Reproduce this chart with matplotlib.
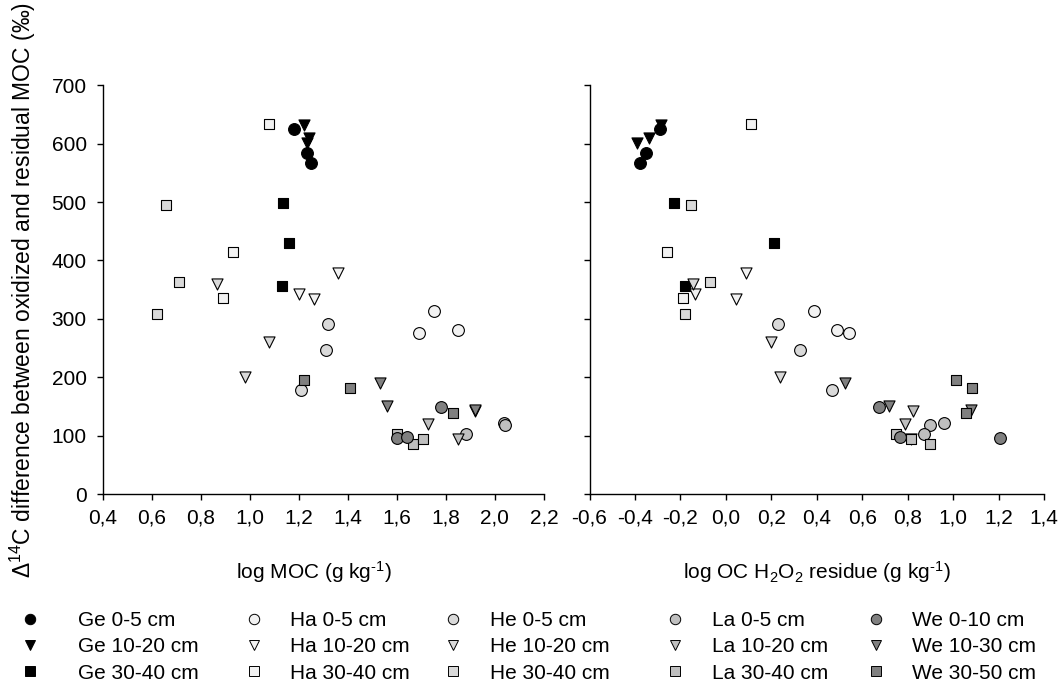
import matplotlib
matplotlib.use('Agg')
import matplotlib.pyplot as plt
from matplotlib.lines import Line2D
from matplotlib.ticker import FuncFormatter, MultipleLocator

plt.rcParams['font.family'] = ['Liberation Sans', 'DejaVu Sans']
plt.rcParams['font.size'] = 15
plt.rcParams['mathtext.fontset'] = 'custom'
plt.rcParams['mathtext.rm'] = 'Liberation Sans'
plt.rcParams['mathtext.it'] = 'Liberation Sans:italic'
plt.rcParams['mathtext.bf'] = 'Liberation Sans:bold'

# series, in legend order (one column per site)
sites = ['Ge', 'Ha', 'He', 'La', 'We']
depths = {
    'Ge': ['0-5 cm', '10-20 cm', '30-40 cm'],
    'Ha': ['0-5 cm', '10-20 cm', '30-40 cm'],
    'He': ['0-5 cm', '10-20 cm', '30-40 cm'],
    'La': ['0-5 cm', '10-20 cm', '30-40 cm'],
    'We': ['0-10 cm', '10-30 cm', '30-50 cm'],
}
site_colors = {'Ge': '#000000', 'Ha': '#f2f2f2', 'He': '#d9d9d9', 'La': '#bfbfbf', 'We': '#808080'}
depth_markers = ['o', 'v', 's']

# delta 14C difference (permil), per site and depth
delta14c = {
    'Ge': [[625, 583, 566], [632, 610, 601], [499, 430, 357]],
    'Ha': [[314, 276, 281], [343, 334, 378], [634, 415, 336]],
    'He': [[292, 247, 178], [360, 260, 201], [495, 364, 309]],
    'La': [[122, 119, 103], [121, 95, 143], [104, 86, 95]],
    'We': [[149, 96, 99], [191, 152, 145], [196, 182, 140]],
}
# log MOC (g/kg)
log_moc = {
    'Ge': [[1.18, 1.235, 1.25], [1.22, 1.24, 1.235], [1.135, 1.16, 1.13]],
    'Ha': [[1.75, 1.69, 1.85], [1.20, 1.26, 1.36], [1.08, 0.93, 0.89]],
    'He': [[1.32, 1.31, 1.21], [0.865, 1.08, 0.98], [0.66, 0.71, 0.62]],
    'La': [[2.035, 2.04, 1.88], [1.725, 1.85, 1.92], [1.60, 1.665, 1.705]],
    'We': [[1.78, 1.60, 1.64], [1.53, 1.56, 1.92], [1.22, 1.41, 1.83]],
}
# log OC in H2O2 residue (g/kg)
log_res = {
    'Ge': [[-0.29, -0.35, -0.38], [-0.285, -0.34, -0.39], [-0.23, 0.21, -0.18]],
    'Ha': [[0.39, 0.54, 0.49], [-0.135, 0.045, 0.09], [0.11, -0.26, -0.19]],
    'He': [[0.23, 0.325, 0.465], [-0.145, 0.20, 0.24], [-0.155, -0.07, -0.18]],
    'La': [[0.96, 0.90, 0.87], [0.79, 0.815, 0.825], [0.75, 0.90, 0.815]],
    'We': [[0.675, 1.205, 0.766], [0.525, 0.72, 1.08], [1.015, 1.085, 1.055]],
}

marker_sizes = {'o': 72, 'v': 64, 's': 62}


def comma(v, pos):
    return '{:.1f}'.format(v).replace('.', ',')


fig = plt.figure(figsize=(10.62, 6.94), dpi=100)
ax1 = fig.add_axes([0.0967, 0.2875, 0.4155, 0.59])
ax2 = fig.add_axes([0.5551, 0.2875, 0.4279, 0.59])

for ax, xdata in ((ax1, log_moc), (ax2, log_res)):
    for site in sites:
        for i, marker in enumerate(depth_markers):
            ax.scatter(xdata[site][i], delta14c[site][i], marker=marker, s=marker_sizes[marker],
                       facecolor=site_colors[site], edgecolor='#000000', linewidth=0.8, zorder=3)

    ax.set_ylim(0, 700)
    ax.yaxis.set_major_locator(MultipleLocator(100))
    ax.xaxis.set_major_locator(MultipleLocator(0.2))
    ax.xaxis.set_major_formatter(FuncFormatter(comma))
    for spine in ('right', 'top'):
        ax.spines[spine].set_visible(False)
    for spine in ('left', 'bottom'):
        ax.spines[spine].set_linewidth(1.0)
    ax.tick_params(axis='both', direction='out', length=4.5, width=1.0, labelsize=15, pad=5.5)
    ax.tick_params(axis='y', pad=7)

ax1.set_xlim(0.4, 2.2)
ax2.set_xlim(-0.6, 1.4)
ax2.tick_params(axis='y', labelleft=False)

ax1.set_xlabel('log MOC (g kg$^{\\text{-1}}$)', labelpad=23)
ax1.xaxis.label.set_x(0.478)
ax2.set_xlabel('log OC H$_{\\text{2}}$O$_{\\text{2}}$ residue (g kg$^{\\text{-1}}$)', labelpad=23)
ax1.set_ylabel('\u0394$^{\\text{14}}$C difference between oxidized and residual MOC (\u2030)',
               labelpad=10, fontsize=16.5)

# legend: one column per site
marker_px = [30, 254, 453, 675, 876]
text_px = [78, 290, 490, 712, 912]
W, H = 1062, 694
fs_px = 15 * 100 / 72
for site, mx, tx in zip(sites, marker_px, text_px):
    handles = [Line2D([], [], linestyle='none', marker=m, markersize=7.5 if m == 'o' else 6.5,
                      markerfacecolor=site_colors[site], markeredgecolor='#000000',
                      markeredgewidth=0.7) for m in depth_markers]
    labels = ['{} {}'.format(site, d) for d in depths[site]]
    hl = 0.8
    pad = (tx - mx - hl * fs_px / 2) / fs_px
    fig.legend(handles, labels, loc='upper left',
               bbox_to_anchor=((mx - hl * fs_px / 2) / W, 1 - 611 / H),
               frameon=False, borderpad=0, borderaxespad=0, handlelength=hl,
               handletextpad=pad, labelspacing=0.35, fontsize=15)

fig.savefig('out.png', dpi=100)
